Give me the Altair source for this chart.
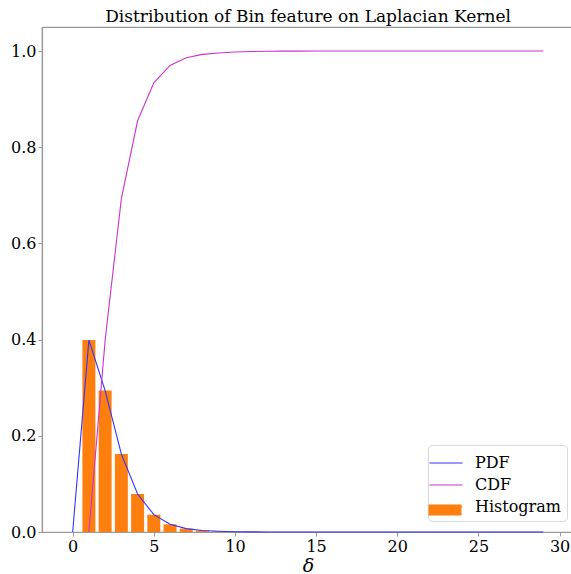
import altair as alt
import pandas as pd

# Bin values (delta) and the measured distribution
delta = list(range(0, 30))
hist = [0.0, 0.399, 0.294, 0.162, 0.079, 0.036, 0.016, 0.007, 0.003, 0.0015,
        0.0006, 0.0003, 0.0001, 0.0001, 0.0, 0.0, 0.0, 0.0, 0.0, 0.0,
        0.0, 0.0, 0.0, 0.0, 0.0, 0.0, 0.0, 0.0, 0.0, 0.0]
pdf = [0.0, 0.399, 0.294, 0.162, 0.079, 0.036, 0.016, 0.007, 0.003, 0.0015,
       0.0006, 0.0003, 0.0001, 0.0001, 0.0, 0.0, 0.0, 0.0, 0.0, 0.0,
       0.0, 0.0, 0.0, 0.0, 0.0, 0.0, 0.0, 0.0, 0.0, 0.0]
cdf_delta = list(range(1, 30))
cdf = [0.0, 0.399, 0.693, 0.855, 0.934, 0.970, 0.986, 0.993, 0.996, 0.998,
       0.999, 0.9995, 0.9998, 0.9999, 1.0, 1.0, 1.0, 1.0, 1.0, 1.0,
       1.0, 1.0, 1.0, 1.0, 1.0, 1.0, 1.0, 1.0, 1.0]

series = ["PDF", "CDF", "Histogram"]
colors = ["#3333ff", "#cc33cc", "#ff7f0e"]
bar_series = ["Histogram"]
bar_colors = ["#ff7f0e"]

hist_df = pd.DataFrame({"delta": delta, "value": hist, "series": "Histogram"})
pdf_df = pd.DataFrame({"delta": delta, "value": pdf, "series": "PDF"})
cdf_df = pd.DataFrame({"delta": cdf_delta, "value": cdf, "series": "CDF"})

FONT = "DejaVu Serif"

x_scale = alt.Scale(domain=[-1.89, 30.89], nice=False, zero=False)
y_scale = alt.Scale(domain=[0, 1.05], nice=False)
stroke_scale = alt.Scale(domain=series, range=colors)
fill_scale = alt.Scale(domain=bar_series, range=bar_colors)

x_axis = alt.Axis(values=[0, 5, 10, 15, 20, 25, 30], format="d", grid=False,
                  title="δ", titleFontStyle="italic", titleFontWeight="normal",
                  titleFontSize=19, titlePadding=2)
y_axis = alt.Axis(values=[0, 0.2, 0.4, 0.6, 0.8, 1.0], format=".1f", grid=False,
                  title=None)

legend_common = dict(
    title=None, orient="none", legendX=386, labelFont=FONT, labelFontSize=16,
    labelColor="#000", symbolSize=484, labelOffset=17, rowPadding=2, padding=6,
)
# framed key with one thin stroke per series
line_legend = alt.Legend(
    legendY=418, symbolType="M-1.5,0L1.5,0", symbolStrokeWidth=1.2,
    fillColor="white", strokeColor="#d9d9d9", cornerRadius=4, zindex=1,
    **legend_common,
)
# filled patch laid over the Histogram row of the framed key (no label of its own)
bar_legend = alt.Legend(
    legendY=466, symbolType="M-1.5,-0.5L1.5,-0.5L1.5,0.5L-1.5,0.5Z",
    symbolStrokeWidth=0, labelExpr="''", zindex=2,
    **legend_common,
)

# bars 0.8 wide centred on each bin, standing on zero
bars = alt.Chart(hist_df).transform_calculate(
    lo="datum.delta - 0.4", hi="datum.delta + 0.4", base="0"
).mark_bar(stroke=None).encode(
    x=alt.X("lo:Q", scale=x_scale, axis=x_axis),
    x2="hi:Q",
    y=alt.Y("value:Q", scale=y_scale, axis=y_axis),
    y2="base:Q",
    fill=alt.Fill("series:N", scale=fill_scale, legend=bar_legend),
)

pdf_line = alt.Chart(pdf_df).mark_line(strokeWidth=1.1).encode(
    x=alt.X("delta:Q", scale=x_scale),
    y=alt.Y("value:Q", scale=y_scale),
    stroke=alt.Stroke("series:N", scale=stroke_scale, legend=line_legend),
)

cdf_line = alt.Chart(cdf_df).mark_line(strokeWidth=1.1).encode(
    x=alt.X("delta:Q", scale=x_scale),
    y=alt.Y("value:Q", scale=y_scale),
    stroke=alt.Stroke("series:N", scale=stroke_scale, legend=line_legend),
)

chart = alt.layer(bars, pdf_line, cdf_line).properties(
    width=532, height=505,
    title=alt.Title("Distribution of Bin feature on Laplacian Kernel",
                    font=FONT, fontSize=17, fontWeight="normal", color="#000",
                    offset=1),
    autosize=alt.AutoSizeParams(type="none"),
    padding={"left": 42, "top": 27, "right": -3, "bottom": 42},
).configure_view(stroke="#999", strokeWidth=1.2).configure_axis(
    labelFont=FONT, labelFontSize=16, labelColor="#000",
    titleFont=FONT, titleColor="#000",
    domainColor="#999", domainWidth=1.2, tickColor="#999", tickSize=4,
    labelPadding=2,
)

chart.save("out.html", embed_options={"renderer": "svg", "actions": False})
